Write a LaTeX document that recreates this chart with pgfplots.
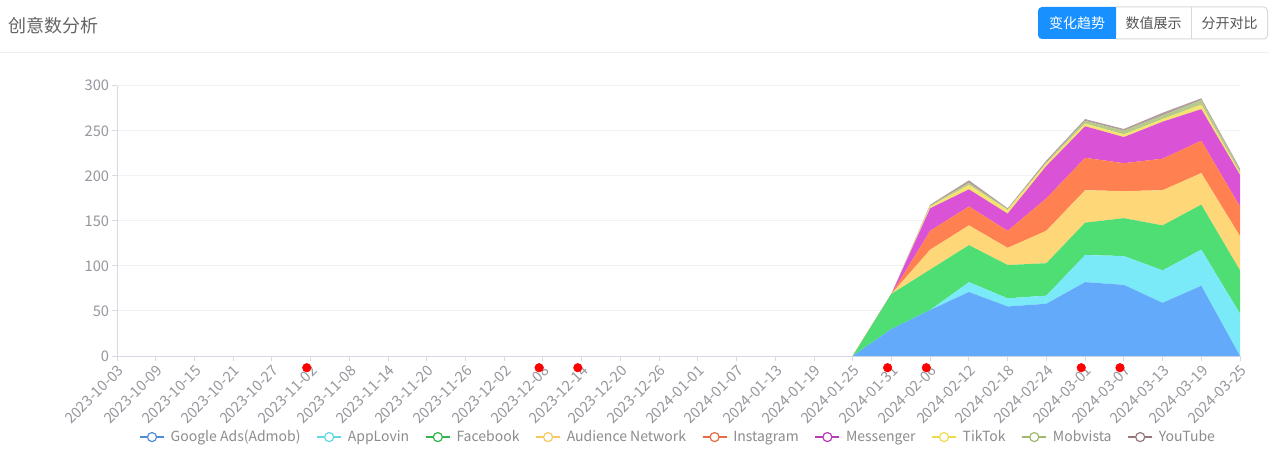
\documentclass[border=0pt]{standalone}
\usepackage{pgfplots}
\pgfplotsset{compat=1.18}
\usepackage{pgfplotstable}
\usepackage{fontspec}
\setmainfont{Noto Sans CJK SC}

\definecolor{cG}{RGB}{99,170,251}
\definecolor{cA}{RGB}{122,233,248}
\definecolor{cF}{RGB}{78,222,115}
\definecolor{cAN}{RGB}{254,215,120}
\definecolor{cI}{RGB}{255,128,80}
\definecolor{cM}{RGB}{218,82,214}
\definecolor{cT}{RGB}{245,228,110}
\definecolor{cMV}{RGB}{182,202,140}
\definecolor{cY}{RGB}{178,158,158}
\definecolor{lG}{RGB}{80,140,215}
\definecolor{lA}{RGB}{100,215,230}
\definecolor{lF}{RGB}{50,180,80}
\definecolor{lAN}{RGB}{245,200,100}
\definecolor{lI}{RGB}{225,110,70}
\definecolor{lM}{RGB}{180,60,180}
\definecolor{lT}{RGB}{235,220,80}
\definecolor{lMV}{RGB}{160,185,110}
\definecolor{lY}{RGB}{150,120,120}
\definecolor{ticktxt}{RGB}{150,150,158}
\definecolor{legtxt}{RGB}{140,140,140}
\definecolor{gridc}{RGB}{240,242,246}
\definecolor{axisc}{RGB}{215,218,226}
\definecolor{titlec}{RGB}{100,100,100}
\definecolor{btnblue}{RGB}{24,144,255}
\definecolor{btnborder}{RGB}{217,217,217}
\definecolor{btntxt}{RGB}{85,85,85}
\definecolor{sepc}{RGB}{238,238,238}

\pgfplotstableread{
x  g  a  f  an in me tt mv yt
19 0  0  0  0  0  0  0  0  0
20 30 0  39 0  0  0  0  0  0
21 51 0  45 22 21 25 2  1  1
22 71 11 41 22 21 19 5  2  3
23 55 9  37 19 19 19 4  1  1
24 58 9  36 36 36 36 3  1  2
25 82 30 36 36 36 35 3  3  2
26 79 32 42 30 31 29 3  4  2
27 59 36 50 39 35 41 3  4  3
28 78 40 50 35 36 35 5  5  2
29 0  47 48 38 33 35 2  3  2
}\datatab

\pgfplotstableread{
x    y
4.9  -13
10.9 -13
11.9 -13
19.9 -13
20.9 -13
24.9 -13
25.9 -13
}\dots

\pgfplotsset{
  lgd/.style={legend image code/.code={%
    \path (0pt,0pt) -- (21pt,0pt);
    \draw[#1,line width=0.9pt](0pt,0pt)--(18pt,0pt);
    \draw[#1,fill=white,line width=0.9pt](9pt,0pt) circle (3.4pt);}},
}

\begin{document}
\begin{tikzpicture}
\useasboundingbox (0pt,0pt) rectangle (951.75pt,343.5pt);
\fill[white] (0pt,0pt) rectangle (951.75pt,343.5pt);
\begin{scope}[x=0.75pt,y=0.75pt]
  % title
  \node[anchor=west,inner sep=0pt,text=titlec,font=\fontsize{13.5pt}{15pt}\selectfont] at (8,458-26) {创意数分析};
  \draw[sepc,line width=0.75pt] (0,458-53) -- (1269,458-53);
  % buttons
  \fill[btnblue,rounded corners=3pt] (1116,458-7) -- (1038,458-7) -- (1038,458-39) -- (1116,458-39) [sharp corners] -- cycle;
  \fill[btnblue] (1110,458-7) rectangle (1116,458-39);
  \draw[btnborder,line width=0.75pt,rounded corners=3pt] (1116,458-7) -- (1267.5,458-7) -- (1267.5,458-39) -- (1116,458-39);
  \draw[btnborder,line width=0.75pt] (1191,458-7) -- (1191,458-39);
  \node[text=white,font=\fontsize{10.5pt}{12pt}\selectfont,inner sep=0pt] at (1077,458-23) {变化趋势};
  \node[text=btntxt,font=\fontsize{10.5pt}{12pt}\selectfont,inner sep=0pt] at (1153.5,458-23) {数值展示};
  \node[text=btntxt,font=\fontsize{10.5pt}{12pt}\selectfont,inner sep=0pt] at (1229.5,458-23) {分开对比};
\end{scope}

\begin{axis}[
  at={(87.75pt,76.5pt)}, anchor=south west,
  scale only axis, width=842.25pt, height=202.7pt,
  xmin=0, xmax=29, ymin=0, ymax=300,
  stack plots=y,
  axis lines=left, axis line style={-,draw=axisc,line width=0.75pt},
  xtick={0,...,29},
  xticklabels={2023-10-03,2023-10-09,2023-10-15,2023-10-21,2023-10-27,2023-11-02,2023-11-08,2023-11-14,2023-11-20,2023-11-26,2023-12-02,2023-12-08,2023-12-14,2023-12-20,2023-12-26,2024-01-01,2024-01-07,2024-01-13,2024-01-19,2024-01-25,2024-01-31,2024-02-06,2024-02-12,2024-02-18,2024-02-24,2024-03-01,2024-03-07,2024-03-13,2024-03-19,2024-03-25},
  ytick={0,50,...,300},
  tick align=outside, major tick length=3.75pt,
  tick style={draw=axisc,line width=0.75pt},
  xticklabel style={rotate=45,anchor=north east,text=ticktxt,font=\fontsize{11pt}{12pt}\selectfont,inner sep=1.5pt},
  yticklabel style={text=ticktxt,font=\fontsize{11pt}{12pt}\selectfont,inner sep=2pt},
  /pgf/number format/assume math mode=true,
  ymajorgrids, grid style={draw=gridc,line width=0.75pt},
  legend columns=-1,
  legend style={draw=none,fill=none,at={(0.5,-0.30)},anchor=center,
    text=legtxt,font=\fontsize{10.5pt}{12pt}\selectfont,
    /tikz/every even column/.append style={column sep=10pt},
    nodes={inner sep=2pt}},
]
\addplot[fill=cG,draw=none,lgd=lG] table[x=x,y=g]{\datatab} \closedcycle;
\addlegendentry{Google Ads(Admob)}
\addplot[fill=cA,draw=none,lgd=lA] table[x=x,y=a]{\datatab} \closedcycle;
\addlegendentry{AppLovin}
\addplot[fill=cF,draw=none,lgd=lF] table[x=x,y=f]{\datatab} \closedcycle;
\addlegendentry{Facebook}
\addplot[fill=cAN,draw=none,lgd=lAN] table[x=x,y=an]{\datatab} \closedcycle;
\addlegendentry{Audience Network}
\addplot[fill=cI,draw=none,lgd=lI] table[x=x,y=in]{\datatab} \closedcycle;
\addlegendentry{Instagram}
\addplot[fill=cM,draw=none,lgd=lM] table[x=x,y=me]{\datatab} \closedcycle;
\addlegendentry{Messenger}
\addplot[fill=cT,draw=none,lgd=lT] table[x=x,y=tt]{\datatab} \closedcycle;
\addlegendentry{TikTok}
\addplot[fill=cMV,draw=none,lgd=lMV] table[x=x,y=mv]{\datatab} \closedcycle;
\addlegendentry{Mobvista}
\addplot[fill=cY,draw=none,lgd=lY] table[x=x,y=yt]{\datatab} \closedcycle;
\addlegendentry{YouTube}
\end{axis}

\begin{axis}[
  at={(87.75pt,76.5pt)}, anchor=south west,
  scale only axis, width=842.25pt, height=202.7pt,
  xmin=0, xmax=29, ymin=0, ymax=300,
  hide axis, clip=false,
]
\addplot[only marks,mark=*,mark size=3.2pt,color=red,fill=red] table[x=x,y=y]{\dots};
\end{axis}
\end{tikzpicture}
\end{document}
